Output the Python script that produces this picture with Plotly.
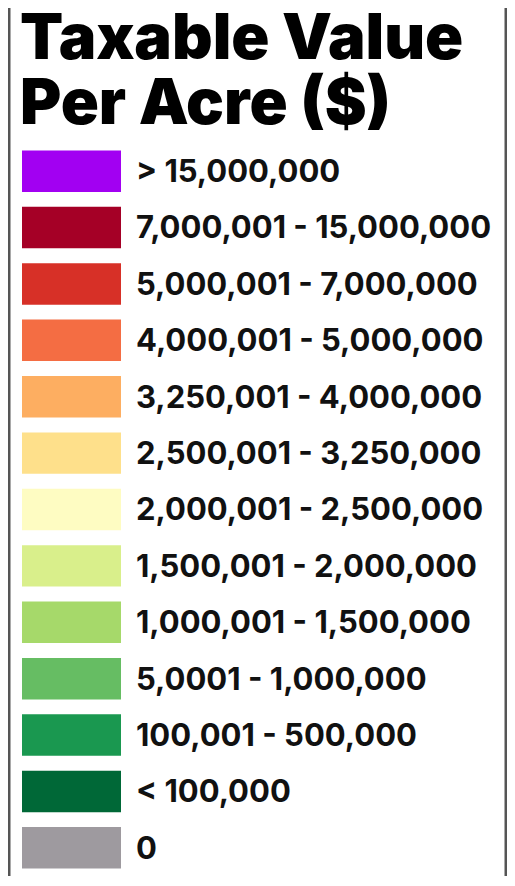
import plotly.graph_objects as go

# legend classes, top to bottom
labels = [
    "> 15,000,000",
    "7,000,001 - 15,000,000",
    "5,000,001 - 7,000,000",
    "4,000,001 - 5,000,000",
    "3,250,001 - 4,000,000",
    "2,500,001 - 3,250,000",
    "2,000,001 - 2,500,000",
    "1,500,001 - 2,000,000",
    "1,000,001 - 1,500,000",
    "5,0001 - 1,000,000",
    "100,001 - 500,000",
    "< 100,000",
    "0",
]
swatch_colors = [
    "#a200f2", "#a50026", "#d73027", "#f46d43", "#fdae61", "#fee08b",
    "#fefcc2", "#d9ef8b", "#a6d96a", "#66bd63", "#1a9850", "#006837",
    "#9e9a9f",
]
swatch_len = [1] * len(labels)
title_lines = ["Taxable Value", "Per Acre ($)"]

# page body has an 8px margin, so the figure sits 8px in from the window edge
OFF = 8
W, H = 515 - 2 * OFF, 886 - 2 * OFF
M = dict(l=22 - OFF, r=W - (121 - OFF), t=143 - OFF, b=H - (876 - OFF), autoexpand=False)


def py(y_ref):
    # window pixel row -> paper y
    return (H - M["b"] - (y_ref - OFF)) / (H - M["t"] - M["b"])


def px(x_ref):
    return (x_ref - OFF - M["l"]) / (W - M["l"] - M["r"])


fig = go.Figure(go.Bar(
    x=swatch_len,
    y=labels,
    orientation="h",
    marker=dict(color=swatch_colors, line_width=0),
    hoverinfo="y",
))

fig.update_layout(
    width=W, height=H,
    margin=M,
    paper_bgcolor="white",
    plot_bgcolor="white",
    bargap=0.265,
    showlegend=False,
    font=dict(family="Inter", color="#111111"),
    xaxis=dict(range=[0, 1], visible=False, fixedrange=True),
    yaxis=dict(
        autorange="reversed",
        side="right",
        automargin=False,
        showgrid=False, zeroline=False, showline=False,
        ticks="",
        ticklabelstandoff=14,
        tickfont=dict(family="Inter", size=31, weight="bold", color="#111111"),
        fixedrange=True,
    ),
)

# two-line heading, tight line spacing
for i, line in enumerate(title_lines):
    fig.add_annotation(
        text=line,
        xref="paper", yref="paper",
        x=px(18), y=py(-4 + 65 * i),
        xanchor="left", yanchor="top",
        showarrow=False,
        font=dict(family="Inter", size=63, weight=900, color="#000000"),
    )

# frame lines at left and right edge
for xp in (9, 506):
    fig.add_shape(
        type="line", xref="paper", yref="paper",
        x0=px(xp), x1=px(xp), y0=0, y1=py(OFF),
        line=dict(color="#555555", width=3),
    )

fig.write_html("out.html")
